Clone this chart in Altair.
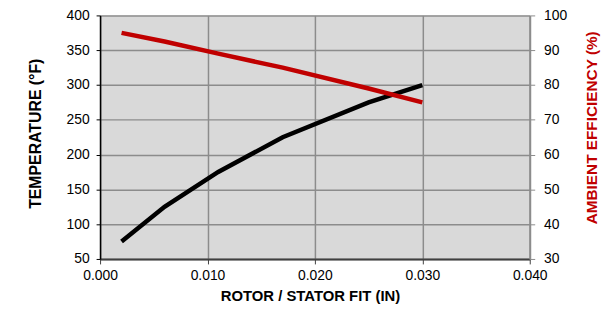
import altair as alt
import pandas as pd

fit_in = [0.002, 0.006, 0.011, 0.017, 0.025, 0.030]
temperature_f = [75, 125, 175, 225, 275, 300]
efficiency_pct = [95, 92.5, 89, 85, 79, 75]

df = pd.DataFrame({"fit": fit_in, "temp": temperature_f, "eff": efficiency_pct})

FONT = "Liberation Sans"
GRID = "#8C8C8C"

x_enc = alt.X(
    "fit:Q",
    scale=alt.Scale(domain=[0, 0.04], nice=False),
    axis=alt.Axis(
        values=[0, 0.01, 0.02, 0.03, 0.04], format=".3f",
        title="ROTOR / STATOR FIT  (IN)",
        titleFontSize=15, titleFontWeight="bold", titleColor="#000000",
        titleX=212, titleY=37, titleBaseline="middle", titleAnchor="start", titleAlign="center",
        labelFontSize=14, labelColor="#000000", labelPadding=5, labelFlush=False,
        tickSize=5, tickColor="#404040", domainColor="#404040", domainWidth=2,
        grid=True, gridColor=GRID, gridWidth=1.5,
    ),
)

temp_line = alt.Chart(df).mark_line(color="#000000", strokeWidth=4.5).encode(
    x=x_enc,
    y=alt.Y(
        "temp:Q",
        scale=alt.Scale(domain=[50, 400], nice=False),
        axis=alt.Axis(
            values=list(range(50, 401, 50)), orient="left",
            title="TEMPERATURE (°F)",
            titleFontSize=16, titleFontWeight="bold", titleColor="#000000",
            titleAngle=270, titleX=-65, titleY=119, titleBaseline="middle", titleAlign="center",
            labelFontSize=14, labelColor="#000000", labelPadding=7, labelFlush=False,
            tickSize=4, tickColor="#000000", domainColor="#000000", domainWidth=1.5,
            grid=True, gridColor=GRID, gridWidth=1.5,
        ),
    ),
)

eff_line = alt.Chart(df).mark_line(color="#C00000", strokeWidth=4.5).encode(
    x=alt.X("fit:Q", scale=alt.Scale(domain=[0, 0.04], nice=False)),
    y=alt.Y(
        "eff:Q",
        scale=alt.Scale(domain=[30, 100], nice=False),
        axis=alt.Axis(
            values=list(range(30, 101, 10)), orient="right",
            title="AMBIENT EFFICIENCY (%)",
            titleFontSize=15.5, titleFontWeight="bold", titleColor="#C00000",
            titleAngle=270, titleX=62, titleY=113, titleBaseline="middle", titleAlign="center",
            labelFontSize=14, labelColor="#000000", labelPadding=9, labelFlush=False,
            tickSize=5, tickColor=GRID, domainColor=GRID, domainWidth=2,
            grid=False,
        ),
    ),
)

chart = (
    alt.layer(temp_line, eff_line)
    .resolve_scale(y="independent")
    .properties(
        width=434, height=246,
        autosize=alt.AutoSizeParams(type="none"),
        padding={"left": 93, "top": 6, "right": 75, "bottom": 46},
        background="#FFFFFF",
    )
    .configure_view(fill="#D9D9D9", stroke=None)
    .configure_axis(labelFont=FONT, titleFont=FONT)
)

chart.save("out.html", embed_options={"renderer": "svg", "actions": False})
